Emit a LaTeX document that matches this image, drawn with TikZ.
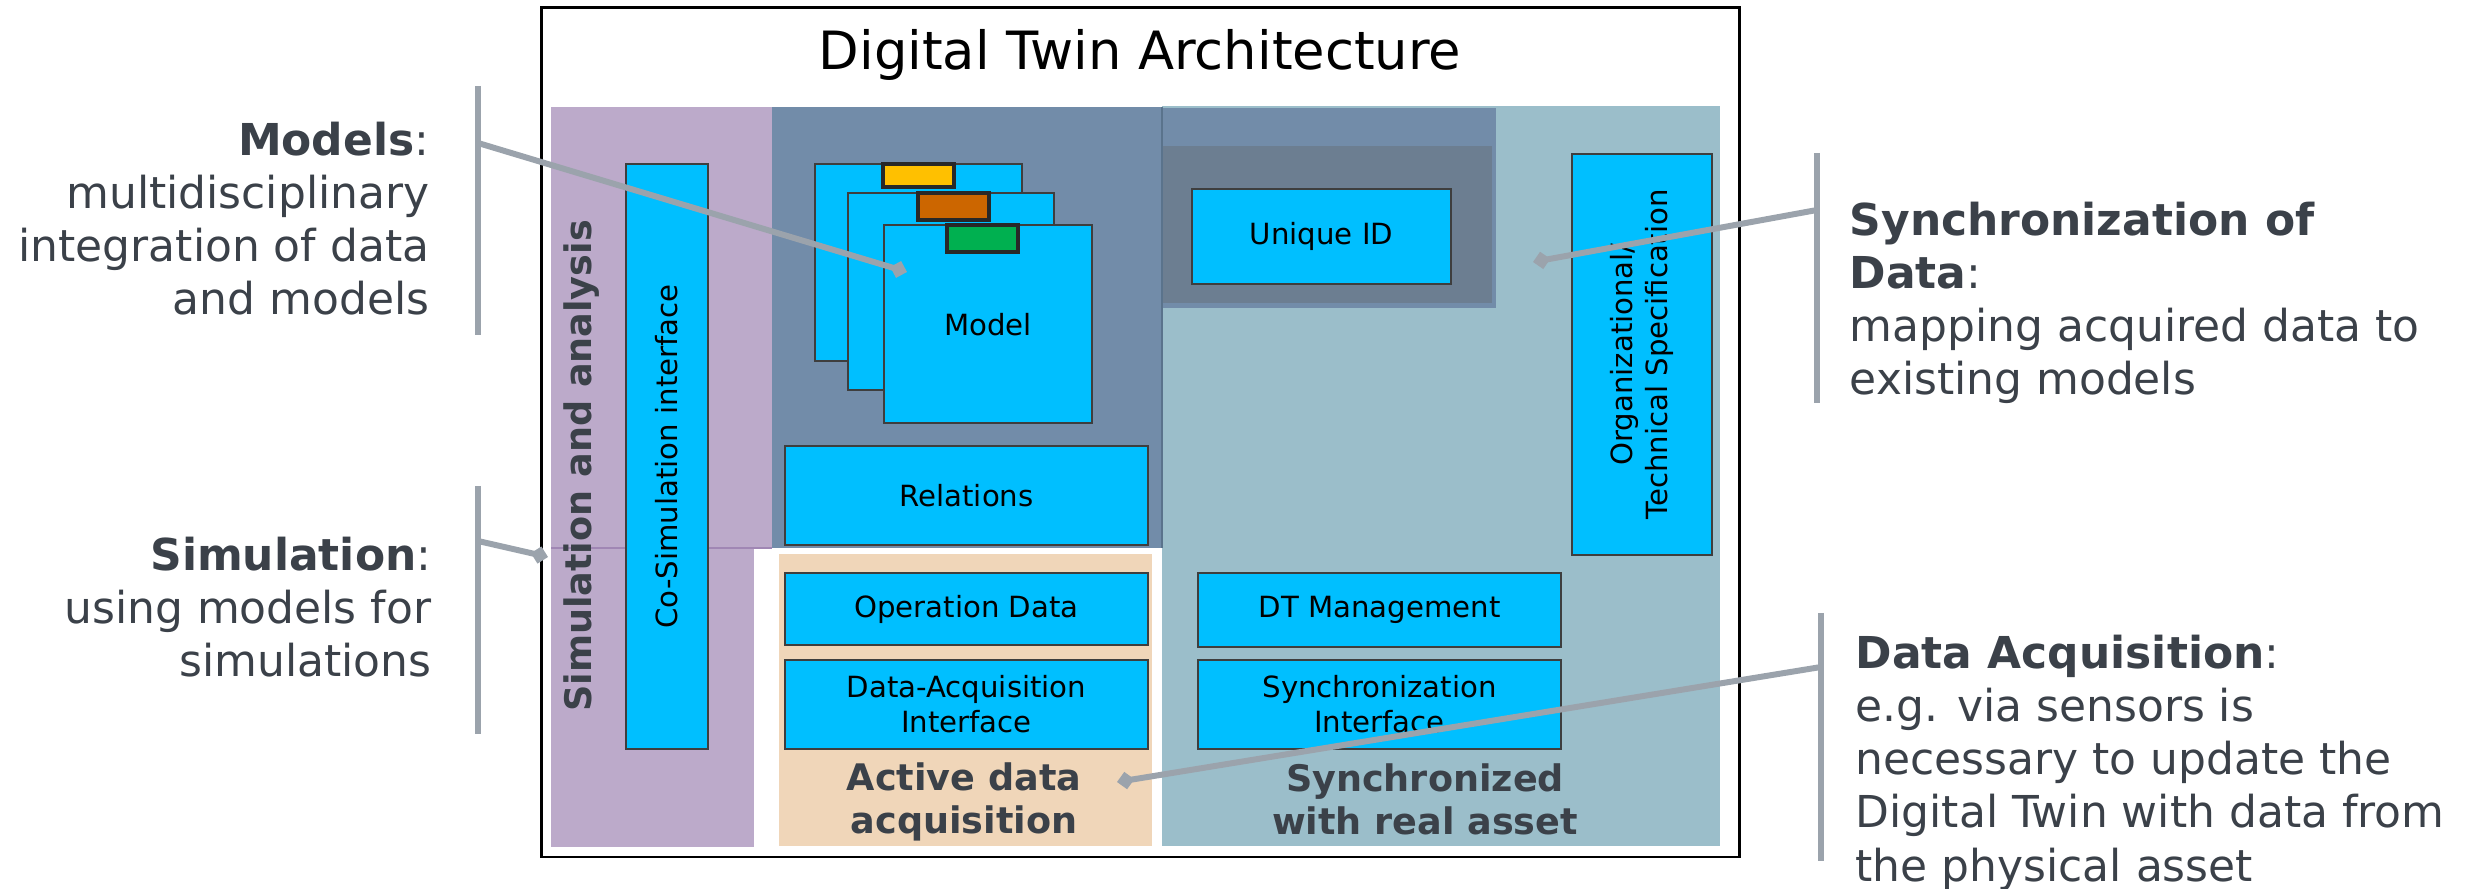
\documentclass[tikz,border=0pt]{standalone}
\usepackage{fontspec}
\setmainfont{DejaVu Sans}
\usetikzlibrary{arrows.meta,fit}
\definecolor{purp}{RGB}{188,170,202}
\definecolor{purpedge}{RGB}{160,135,180}
\definecolor{slate}{RGB}{114,140,169}
\definecolor{slateedge}{RGB}{90,115,140}
\definecolor{darkslate}{RGB}{108,126,145}
\definecolor{tealbg}{RGB}{155,190,202}
\definecolor{peach}{RGB}{240,214,185}
\definecolor{cyanbox}{RGB}{0,191,255}
\definecolor{boxborder}{RGB}{62,62,62}
\definecolor{tabborder}{RGB}{40,40,40}
\definecolor{tabyellow}{RGB}{255,192,0}
\definecolor{taborange}{RGB}{204,102,0}
\definecolor{tabgreen}{RGB}{0,176,80}
\definecolor{annotgray}{RGB}{155,163,172}
\definecolor{textdark}{RGB}{59,65,73}
\tikzset{
  box/.style={draw=boxborder, fill=cyanbox, line width=0.7pt, inner sep=0pt, align=center,
    font=\fontsize{8.3}{10}\selectfont},
  boxlabel/.style={inner sep=0pt, align=center, font=\fontsize{8.3}{10}\selectfont},
  tab/.style={draw=tabborder, line width=0.9pt, inner sep=0pt},
  annotbar/.style={draw=annotgray, line width=1.7pt},
  annotline/.style={draw=annotgray, line width=1.7pt, -{Diamond[length=5pt,width=5pt]}},
  annottext/.style={inner sep=0pt, text=textdark, font=\fontsize{12.5}{15.15}\selectfont},
  areatext/.style={inner sep=0pt, align=center, text=textdark, font=\fontsize{10.4}{12.3}\selectfont\bfseries},
}
\begin{document}
\begin{tikzpicture}[x=0.01cm,y=-0.01cm]
\useasboundingbox (0,0) rectangle (2476,889);
% background areas
\fill[purp] (551,107) rectangle (772,548);
\fill[purp] (551,548) rectangle (754,847);
\draw[purpedge, line width=0.3pt] (551,548) -- (772,548);
\fill[slate] (772,107) rectangle (1162,548);
\fill[tealbg] (1162,106) rectangle (1720,846);
\fill[slate] (1162,108) rectangle (1496,308);
\fill[darkslate] (1162,146) rectangle (1492,303);
\draw[slateedge, line width=0.3pt] (1162,107) -- (1162,548);
\fill[peach] (779,554) rectangle (1152,846);
% outer frame
\node[draw=black, line width=0.85pt, inner sep=0pt, fit={(541,8)(1739,857)}] (frame) {};
\node[anchor=base, inner sep=0pt, font=\fontsize{15}{18}\selectfont] (title) at (1140,70) {Digital Twin Architecture};
% simulation column
\node[inner sep=0pt, rotate=90, text=textdark, font=\fontsize{10.4}{12.5}\selectfont\bfseries] (simtxt) at (582,466) {Simulation and analysis};
\node[box, fit={(626,164)(708,749)}] (cosim) {};
\node[boxlabel, rotate=90] (cosimtxt) at (cosim.center) {Co-Simulation interface};
% model stack
\node[box, fit={(815,164)(1022,361)}] (m1) {};
\node[tab, fill=tabyellow, fit={(883,164)(954,187)}] (t1) {};
\node[box, fit={(848,193)(1054,390)}] (m2) {};
\node[tab, fill=taborange, fit={(918,193)(989,220)}] (t2) {};
\node[box, fit={(884,225)(1092,423)}] (m3) {};
\node[tab, fill=tabgreen, fit={(947,225)(1018,252)}] (t3) {};
\node[boxlabel] (modeltxt) at (988,325) {Model};
\node[box, fit={(785,446)(1148,545)}] (rel) {};
\node[boxlabel] at (rel.center) {Relations};
% unique id
\node[box, fit={(1192,189)(1451,284)}] (uid) {};
\node[boxlabel] at (uid.center) {Unique ID};
% org spec
\node[box, fit={(1572,154)(1712,555)}] (org) {};
\node[boxlabel, rotate=90, font=\fontsize{8.3}{10.1}\selectfont] (orgtxt) at (org.center) {Organizational/\\Technical Specification};
% lower boxes
\node[box, fit={(785,573)(1148,645)}] (opd) {};
\node[boxlabel] at (opd.center) {Operation Data};
\node[box, fit={(785,660)(1148,749)}] (dai) {};
\node[boxlabel] at (dai.center) {Data-Acquisition\\Interface};
\node[box, fit={(1198,573)(1561,647)}] (dtm) {};
\node[boxlabel] at (dtm.center) {DT Management};
\node[box, fit={(1198,660)(1561,749)}] (syi) {};
\node[boxlabel] at (syi.center) {Synchronization\\Interface};
\node[areatext] (acttxt) at (964,802) {Active data\\acquisition};
\node[areatext] (synctxt) at (1425,799) {Synchronized\\with real asset};
% annotations left
\node[annottext, anchor=north east, align=right] (annmodels) at (430,121)
  {\textbf{Models}:\\multidisciplinary\\integration of data\\and models};
\node[annottext, anchor=north east, align=right] (annsim) at (432,536)
  {\textbf{Simulation}:\\using models for\\simulations};
% annotations right
\node[annottext, anchor=north west, align=left] (annsync) at (1849,201)
  {\textbf{Synchronization of}\\\textbf{Data}:\\mapping acquired data to\\existing models};
\node[annottext, anchor=north west, align=left] (annda) at (1855,634)
  {\textbf{Data Acquisition}:\\e.g. via sensors is\\necessary to update the\\Digital Twin with data from\\the physical asset};
% bars
\coordinate (bm1) at (478,86); \coordinate (bm2) at (478,335);
\coordinate (bs1) at (478,486); \coordinate (bs2) at (478,734);
\coordinate (by1) at (1817,153); \coordinate (by2) at (1817,403);
\coordinate (bd1) at (1821,613); \coordinate (bd2) at (1821,861);
\draw[annotbar] (bm1) -- (bm2);
\draw[annotbar] (bs1) -- (bs2);
\draw[annotbar] (by1) -- (by2);
\draw[annotbar] (bd1) -- (bd2);
% connectors
\coordinate (cm) at (478,143); \coordinate (tm) at (907,272);
\coordinate (cs) at (478,541); \coordinate (ts) at (548,557);
\coordinate (cy) at (1817,210); \coordinate (ty) at (1533,262);
\coordinate (cd) at (1821,667); \coordinate (td) at (1117,782);
\draw[annotline] (cm) -- (tm);
\draw[annotline] (cs) -- (ts);
\draw[annotline] (cy) -- (ty);
\draw[annotline] (cd) -- (td);
\end{tikzpicture}
\end{document}
